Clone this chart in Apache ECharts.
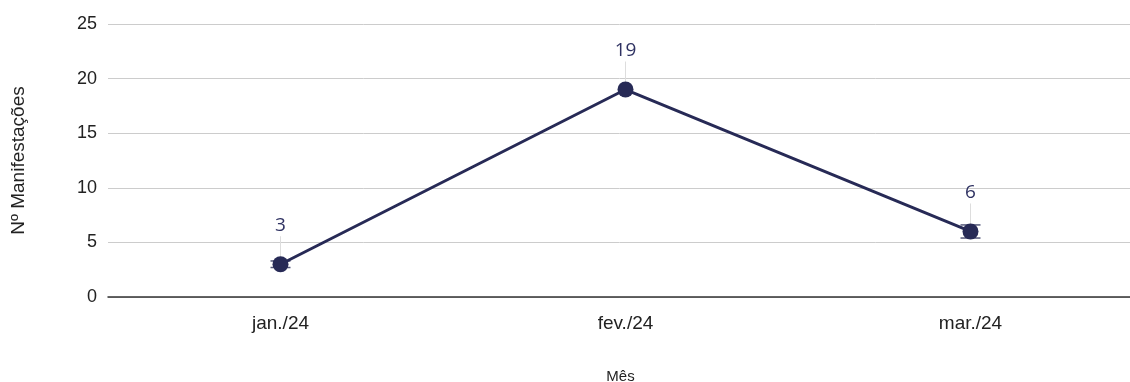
<!DOCTYPE html>
<html>
<head>
<meta charset="utf-8">
<script src="https://cdn.jsdelivr.net/npm/echarts@6/dist/echarts.min.js"></script>
<style>
  html, body { margin: 0; padding: 0; background: #fff; }
  #chart { width: 1130px; height: 382px; }
</style>
</head>
<body>
<div id="chart"></div>
<script>
// dados
const meses = ['jan./24', 'fev./24', 'mar./24']
const manifestacoes = [3, 19, 6]
// barras de erro (inferior / superior), null = sem barra
const erroInf = [2.7, null, 5.4]
const erroSup = [3.3, null, 6.6]

const navy = '#272a56'
const myChart = echarts.init(document.getElementById('chart'))

const extraData = meses.map((m, i) => [i, manifestacoes[i], erroInf[i], erroSup[i]])

const option = {
  animation: false,
  grid: {
    left: 108,
    width: 1035, // passa da borda direita, como no original
    top: 24,
    height: 273,
    outerBoundsMode: 'none',
    containLabel: false
  },
  xAxis: {
    type: 'category',
    data: meses,
    name: 'Mês',
    nameLocation: 'middle',
    nameGap: 72,
    nameTextStyle: { fontFamily: 'Liberation Sans', fontSize: 15, color: '#222', padding: [0, 10, 0, 0] },
    axisLine: { lineStyle: { color: '#333', width: 1.5 } },
    axisTick: { show: false },
    axisLabel: { fontFamily: 'Liberation Sans', fontSize: 19, color: '#222', margin: 17 }
  },
  yAxis: {
    type: 'value',
    min: 0,
    max: 25,
    interval: 5,
    name: 'Nº Manifestações',
    nameLocation: 'middle',
    nameGap: 80,
    nameTextStyle: { fontFamily: 'Liberation Sans', fontSize: 19, color: '#222' },
    axisLine: { show: false },
    axisTick: { show: false },
    axisLabel: { fontFamily: 'Liberation Sans', fontSize: 18, color: '#222', margin: 11 },
    splitLine: { lineStyle: { color: '#cccccc', width: 1 } }
  },
  series: [
    {
      // linhas guia dos rótulos + barras de erro
      type: 'custom',
      z: 1,
      data: extraData,
      renderItem(params, api) {
        const p = api.coord([api.value(0), api.value(1)])
        const children = [
          {
            type: 'line',
            shape: { x1: p[0], y1: p[1], x2: p[0], y2: p[1] - 28 },
            style: { stroke: '#dddddd', lineWidth: 1 }
          },
          {
            type: 'text',
            style: {
              text: String(api.value(1)),
              x: p[0],
              y: p[1] - 39,
              align: 'center',
              verticalAlign: 'middle',
              fontFamily: 'Open Sans',
              fontSize: 19,
              fill: '#2f3262'
            }
          }
        ]
        const lo = api.value(2)
        const hi = api.value(3)
        if (!isNaN(lo) && !isNaN(hi)) {
          const a = api.coord([api.value(0), lo])
          const b = api.coord([api.value(0), hi])
          const w = 10
          children.push(
            { type: 'line', shape: { x1: a[0], y1: a[1], x2: b[0], y2: b[1] }, style: { stroke: '#55587a', lineWidth: 1.5 } },
            { type: 'line', shape: { x1: a[0] - w, y1: a[1], x2: a[0] + w, y2: a[1] }, style: { stroke: '#55587a', lineWidth: 1.5 } },
            { type: 'line', shape: { x1: b[0] - w, y1: b[1], x2: b[0] + w, y2: b[1] }, style: { stroke: '#55587a', lineWidth: 1.5 } }
          )
        }
        return { type: 'group', children }
      }
    },
    {
      type: 'line',
      z: 3,
      data: manifestacoes,
      symbol: 'circle',
      symbolSize: 16,
      lineStyle: { color: navy, width: 3 },
      itemStyle: { color: navy },
      label: { show: false }
    }
  ]
}
myChart.setOption(option)
</script>
</body>
</html>
